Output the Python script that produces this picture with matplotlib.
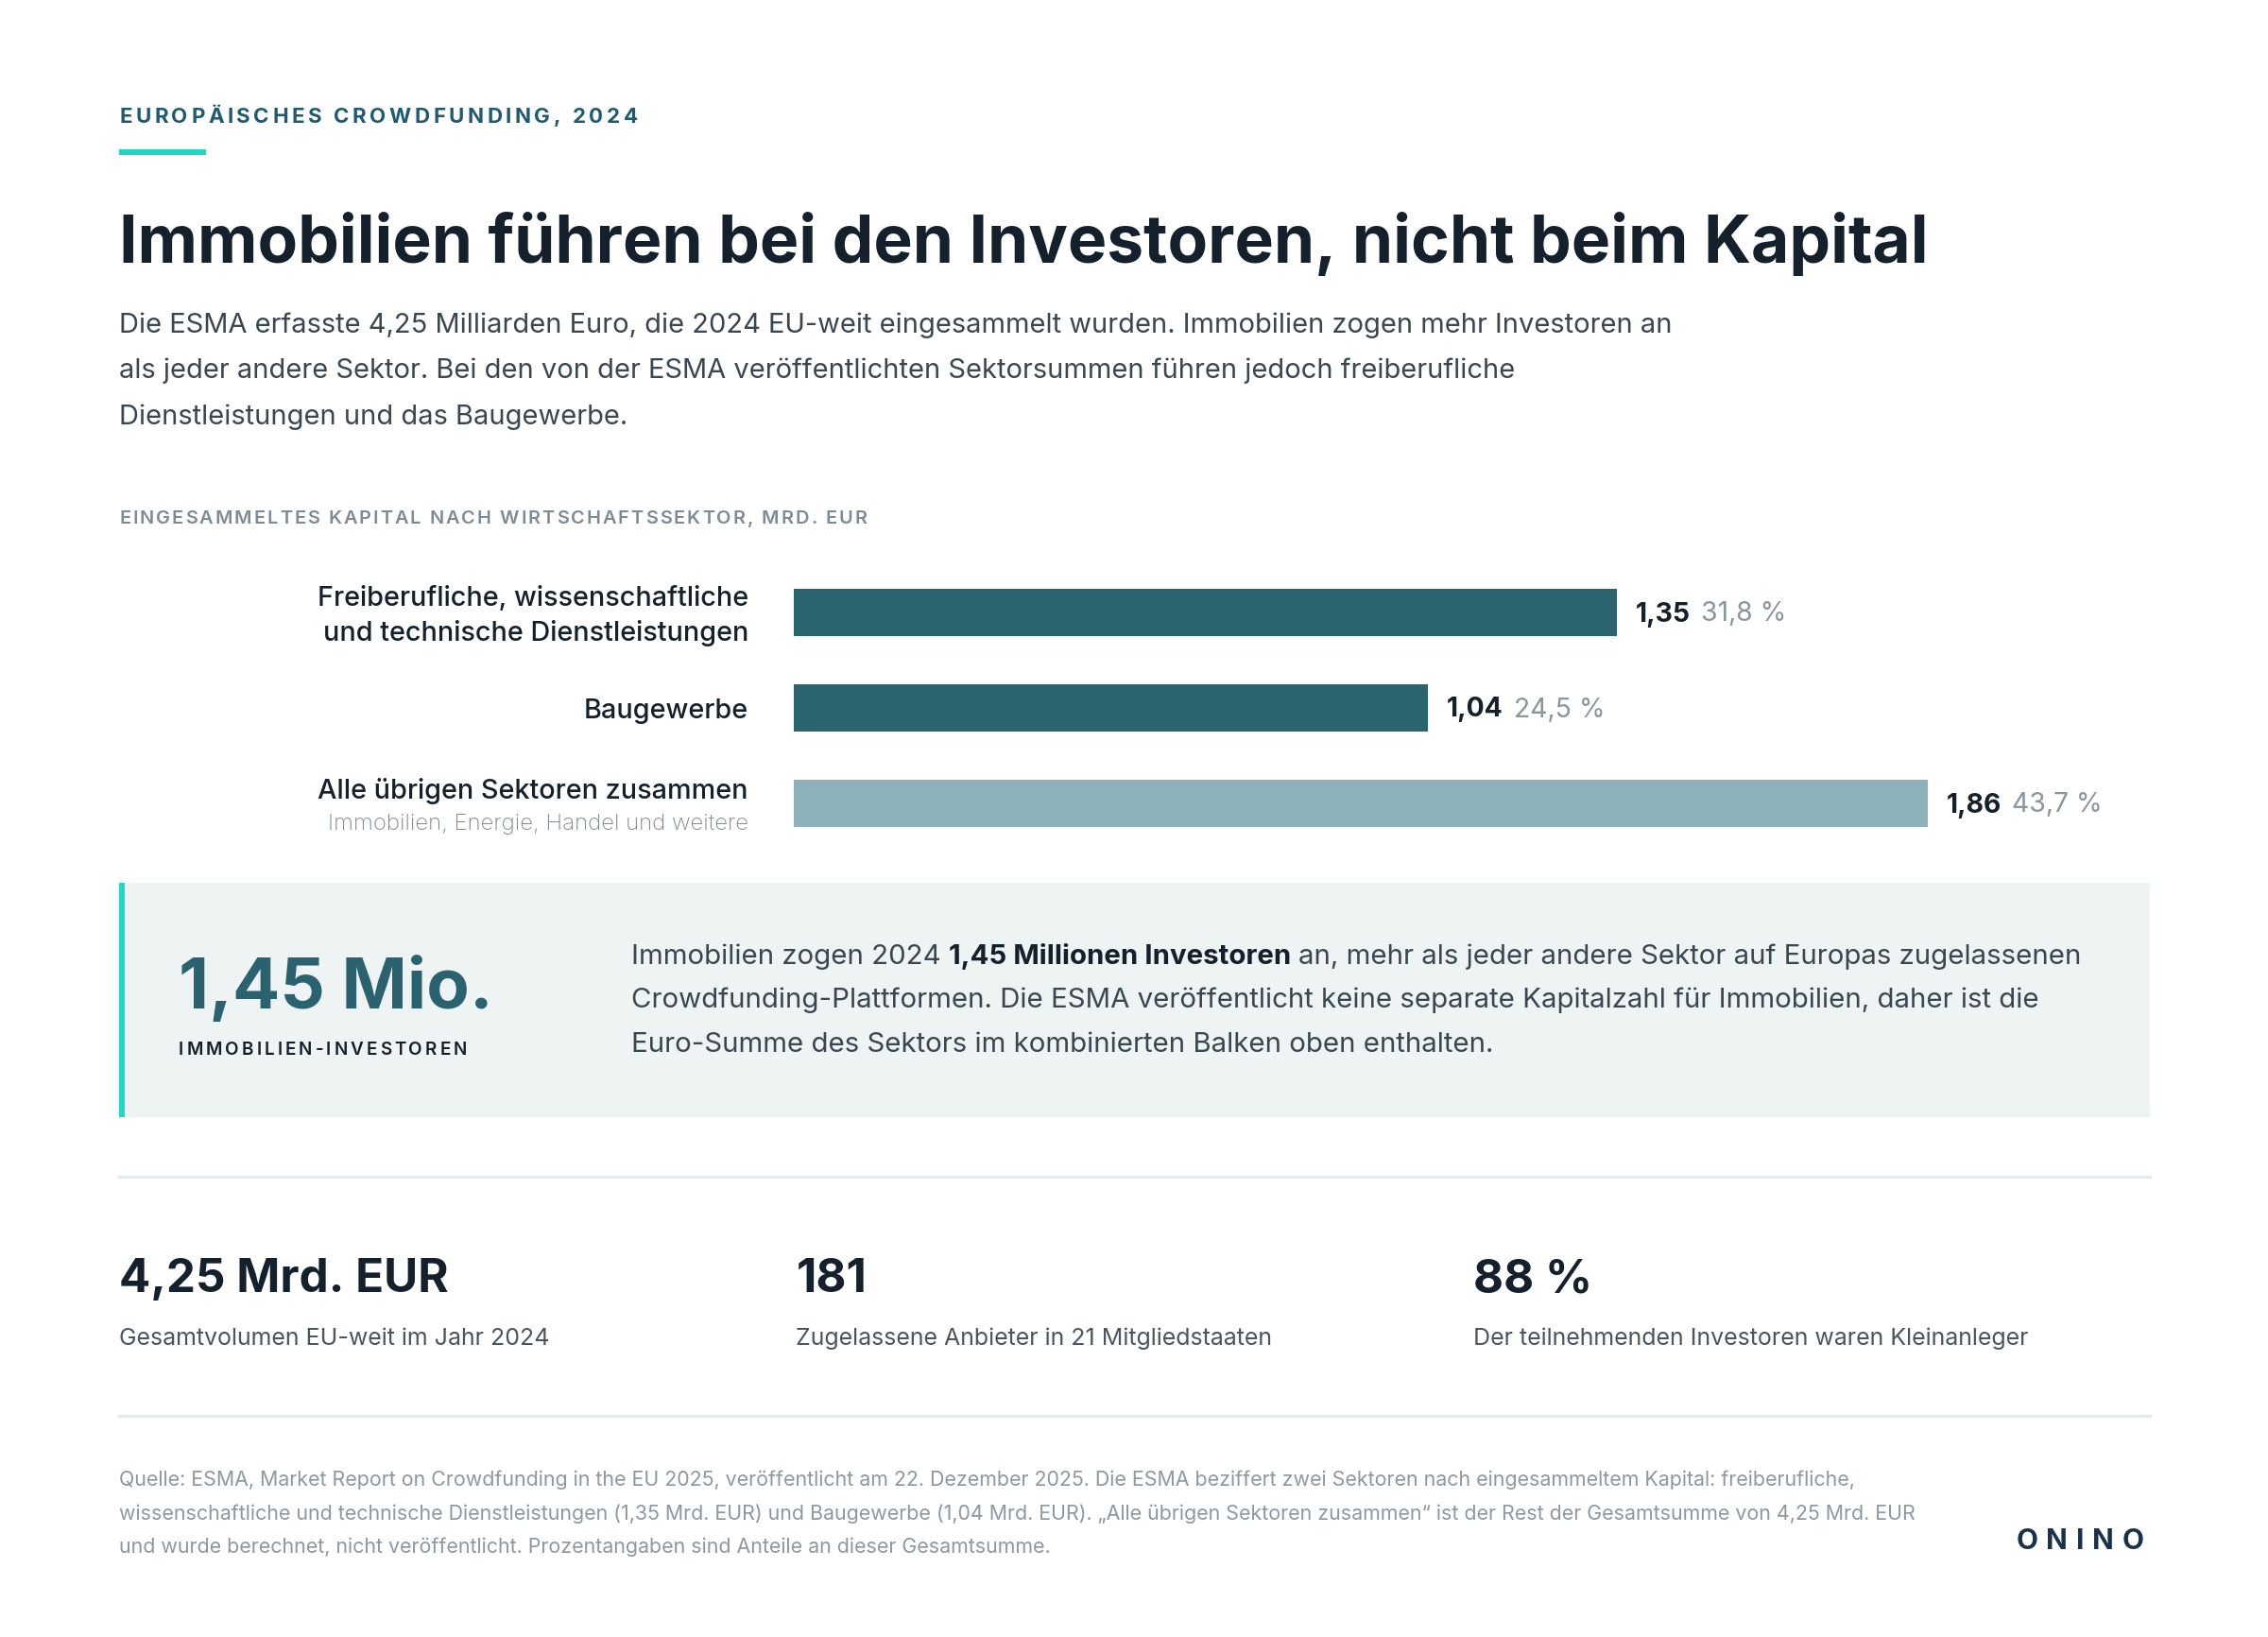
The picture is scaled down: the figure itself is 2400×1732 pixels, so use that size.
import matplotlib
matplotlib.use('Agg')
import matplotlib.pyplot as plt
from matplotlib.patches import Rectangle

# ---------------- data ----------------
kicker = 'EUROPÄISCHES CROWDFUNDING, 2024'
title = 'Immobilien führen bei den Investoren, nicht beim Kapital'
subtitle_lines = [
    'Die ESMA erfasste 4,25 Milliarden Euro, die 2024 EU-weit eingesammelt wurden. Immobilien zogen mehr Investoren an',
    'als jeder andere Sektor. Bei den von der ESMA veröffentlichten Sektorsummen führen jedoch freiberufliche',
    'Dienstleistungen und das Baugewerbe.',
]
chart_label = 'EINGESAMMELTES KAPITAL NACH WIRTSCHAFTSSEKTOR, MRD. EUR'

categories = ['Freiberufliche, wissenschaftliche\nund technische Dienstleistungen',
              'Baugewerbe',
              'Alle übrigen Sektoren zusammen']
category_notes = ['', '', 'Immobilien, Energie, Handel und weitere']
values = [1.35, 1.04, 1.86]
value_labels = ['1,35', '1,04', '1,86']
share_labels = ['31,8 %', '24,5 %', '43,7 %']

highlight_value = '1,45 Mio.'
highlight_label = 'IMMOBILIEN-INVESTOREN'
highlight_text = [
    [('Immobilien zogen 2024 ', 'r'), ('1,45 Millionen Investoren', 'b'),
     (' an, mehr als jeder andere Sektor auf Europas zugelassenen', 'r')],
    [('Crowdfunding-Plattformen. Die ESMA veröffentlicht keine separate Kapitalzahl für Immobilien, daher ist die', 'r')],
    [('Euro-Summe des Sektors im kombinierten Balken oben enthalten.', 'r')],
]

stat_values = ['4,25 Mrd. EUR', '181', '88 %']
stat_labels = ['Gesamtvolumen EU-weit im Jahr 2024',
               'Zugelassene Anbieter in 21 Mitgliedstaaten',
               'Der teilnehmenden Investoren waren Kleinanleger']

footer_lines = [
    'Quelle: ESMA, Market Report on Crowdfunding in the EU 2025, veröffentlicht am 22. Dezember 2025. Die ESMA beziffert zwei Sektoren nach eingesammeltem Kapital: freiberufliche,',
    'wissenschaftliche und technische Dienstleistungen (1,35 Mrd. EUR) und Baugewerbe (1,04 Mrd. EUR). „Alle übrigen Sektoren zusammen“ ist der Rest der Gesamtsumme von 4,25 Mrd. EUR',
    'und wurde berechnet, nicht veröffentlicht. Prozentangaben sind Anteile an dieser Gesamtsumme.',
]
brand = 'ONINO'

# ---------------- style ----------------
W, H, DPI = 2400, 1732, 200
FONT = ['Inter', 'DejaVu Sans']
C_DARK = '#14202b'
C_KICK = '#1e5b73'
C_TURQ = '#1fd8c8'
C_BAR_DARK = '#2b636f'
C_BAR_LIGHT = '#8db2bb'
C_GRAY = '#7f8b94'
C_PCT = '#8a959c'
C_PARA = '#3a4650'
C_BOX = '#eef3f3'
C_BIG = '#2b626f'
C_SEP = '#e4e9eb'
C_FOOT = '#8d98a0'
C_BRAND = '#17324a'
bar_colors = [C_BAR_DARK, C_BAR_DARK, C_BAR_LIGHT]

plt.rcParams['font.family'] = FONT
fig = plt.figure(figsize=(W / DPI, H / DPI), dpi=DPI)
fig.patch.set_facecolor('white')
bg = fig.add_axes([0, 0, 1, 1])
bg.set_xlim(0, W)
bg.set_ylim(H, 0)
bg.axis('off')
R = fig.canvas.get_renderer()

LEFT, RIGHT = 126, 2275


def width(s, size, weight='normal'):
    t = bg.text(0, 0, s, fontsize=size, fontweight=weight, family=FONT)
    w = t.get_window_extent(R).width
    t.remove()
    return w


def space_w(size, weight='normal'):
    return width('I I', size, weight) - width('II', size, weight)


def fit(s, target, weight='normal'):
    return 10 * target / width(s, 10, weight)


def T(x, y, s, size, weight='normal', color=C_DARK, ha='left', va='baseline', **kw):
    return bg.text(x, y, s, fontsize=size, fontweight=weight, color=color,
                   ha=ha, va=va, family=FONT, **kw)


def tracked(x, y, s, size, weight, color, track, ha='left', va='baseline'):
    ws = [space_w(size, weight) if ch == ' ' else width(ch, size, weight) for ch in s]
    total = sum(ws) + track * (len(s) - 1)
    if ha == 'right':
        x = x - total
    for ch, w in zip(s, ws):
        if ch != ' ':
            T(x, y, ch, size, weight, color, va=va)
        x += w + track
    return total


def tracked_fit(s, target, weight, track_em):
    ws = sum((space_w(10, weight) if ch == ' ' else width(ch, 10, weight)) for ch in s) / 10
    px_per_pt = DPI / 72
    size = target / (ws + track_em * px_per_pt * (len(s) - 1))
    return size, track_em * size * px_per_pt


def runs(x, y, parts, size, color_r, color_b, w_r='normal', w_b='bold'):
    sp = space_w(size, w_r)
    for text, kind in parts:
        weight = w_b if kind == 'b' else w_r
        color = color_b if kind == 'b' else color_r
        lead = len(text) - len(text.lstrip(' '))
        trail = len(text) - len(text.rstrip(' '))
        core = text.strip(' ')
        x += lead * sp
        T(x, y, core, size, weight, color)
        x += width(core, size, weight) + trail * sp
    return x


# ---------------- header ----------------
ks, kt = tracked_fit(kicker, 549, 'bold', 0.16)
tracked(LEFT, 130, kicker, ks, 'bold', C_KICK, kt)
bg.add_patch(Rectangle((LEFT, 158), 92, 6, color=C_TURQ, lw=0))

ts = fit(title, 1918, 'bold')
T(LEFT, 278, title, ts, 'bold', C_DARK)

ss = fit(subtitle_lines[0], 1644, 'normal')
for i, line in enumerate(subtitle_lines):
    T(LEFT, 352 + i * 48.5, line, ss, 'normal', C_PARA)

cs, ct = tracked_fit(chart_label, 792, 'semibold', 0.10)
tracked(LEFT, 554, chart_label, cs, 'semibold', C_GRAY, ct)

# ---------------- bar chart ----------------
x0_px, scale = 840, 645.0
xmax = 2.2
ax_top, ax_bot = 597.5, 900.5
ax = fig.add_axes([x0_px / W, 1 - ax_bot / H, xmax * scale / W, (ax_bot - ax_top) / H])
ax.set_xlim(0, xmax)
ax.set_ylim(2.5, -0.5)
ax.axis('off')
ypos = list(range(len(values)))
ax.barh(ypos, values, height=0.495, color=bar_colors, lw=0)


def bar_center_px(i):
    return H - ax.transData.transform((0, i))[1]


def bar_end_px(v):
    return ax.transData.transform((v, 0))[0]


LABEL_X = 792
ls = fit('Freiberufliche, wissenschaftliche', 456, 'medium')
ns = fit(category_notes[2], 446, 'light')
vs = fit('1,35', 58, 'bold')
for i, (cat, note) in enumerate(zip(categories, category_notes)):
    yc = bar_center_px(i)
    if note:
        T(LABEL_X, yc - 13, cat, ls, 'medium', C_DARK, ha='right', va='center')
        T(LABEL_X, yc + 22, note, ns, 'light', C_GRAY, ha='right', va='center')
    else:
        T(LABEL_X, yc + 4, cat, ls, 'medium', C_DARK, ha='right', va='center',
          multialignment='right', linespacing=1.45)
    xe = bar_end_px(values[i]) + 20
    T(xe, yc + 2, value_labels[i], vs, 'bold', C_DARK, va='center')
    xe2 = xe + width(value_labels[i], vs, 'bold') + 11
    T(xe2, yc + 2, share_labels[i], vs, 'normal', C_PCT, va='center')

# ---------------- highlight box ----------------
bg.add_patch(Rectangle((LEFT, 934), RIGHT - LEFT, 248, color=C_BOX, lw=0))
bg.add_patch(Rectangle((LEFT, 934), 6, 248, color=C_TURQ, lw=0))
bs = fit(highlight_value, 333, 'bold')
T(189, 1067, highlight_value, bs, 'bold', C_BIG)
hs, ht = tracked_fit(highlight_label, 305, 'semibold', 0.16)
tracked(189, 1116, highlight_label, hs, 'semibold', C_DARK, ht)

ps = fit('Immobilien zogen 2024 1,45 Millionen Investoren an, mehr als jeder andere Sektor auf Europas zugelassenen', 1519, 'normal')
for i, parts in enumerate(highlight_text):
    runs(668, 1020 + i * 46.5, parts, ps, C_PARA, C_DARK, 'normal', 'bold')

# ---------------- stats ----------------
bg.plot([LEFT, RIGHT], [1245, 1245], color=C_SEP, lw=1.2)
sts = fit(stat_values[0], 349, 'bold')
sls = fit(stat_labels[0], 457, 'normal')
for i, (v, l) in enumerate(zip(stat_values, stat_labels)):
    x = LEFT + i * 716.5
    T(x, 1367, v, sts, 'bold', C_DARK)
    T(x, 1423, l, sls, 'normal', '#4a5560')
bg.plot([LEFT, RIGHT], [1498, 1498], color=C_SEP, lw=1.2)

# ---------------- footer ----------------
fs = fit(footer_lines[0], 1842, 'normal')
for i, line in enumerate(footer_lines):
    T(LEFT, 1572 + i * 35.5, line, fs, 'normal', C_FOOT)

bs2, bt2 = tracked_fit(brand, 136, 'bold', 0.30)
tracked(2269, 1639, brand, bs2, 'bold', C_BRAND, bt2, ha='right')

fig.savefig('out.png', dpi=DPI, facecolor='white')
